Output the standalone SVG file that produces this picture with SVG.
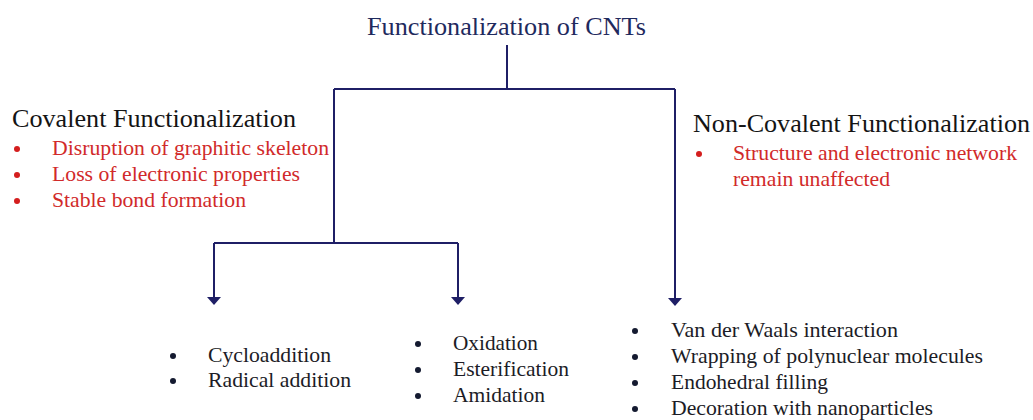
<svg xmlns="http://www.w3.org/2000/svg" width="1033" height="420" viewBox="0 0 1033 420">
<style>
text{font-family:"Liberation Serif",Tinos,"Times New Roman","DejaVu Serif","Noto Serif",serif}
.title{font-size:26px;fill:#1f2a5e}
.head{font-size:26px;fill:#141414}
.red{font-size:22px;fill:#d12a2a}
.item{font-size:22px;fill:#1c1c26}
.rdot{fill:#d41e1e}
.dot{fill:#141a30}
.conn{stroke:#1f1f66;stroke-width:2;fill:none}
</style>
<defs>
<marker id="ah" viewBox="0 0 8 14" refX="7" refY="7" markerWidth="8" markerHeight="14" markerUnits="userSpaceOnUse" orient="auto">
<path d="M0,0 L8,7 L0,14 Z" fill="#1f1f66"/>
</marker>
</defs>
<rect width="1033" height="420" fill="#ffffff"/>
<g id="connectors">
<path class="conn" d="M507,45 V89"/>
<path class="conn" d="M334,89 H675"/>
<path class="conn" d="M334,89 V243"/>
<path class="conn" d="M214,243 H458"/>
<path class="conn" d="M214,243 V304" marker-end="url(#ah)"/>
<path class="conn" d="M458,243 V304" marker-end="url(#ah)"/>
<path class="conn" d="M675,89 V305" marker-end="url(#ah)"/>
</g>
<g id="root">
<text class="title" x="367" y="35" textLength="279" lengthAdjust="spacingAndGlyphs">Functionalization of CNTs</text>
</g>
<g id="covalent">
<text class="head" x="12" y="127" textLength="284" lengthAdjust="spacingAndGlyphs">Covalent Functionalization</text>
<circle class="rdot" cx="17" cy="149" r="3"/>
<circle class="rdot" cx="17" cy="175" r="3"/>
<circle class="rdot" cx="17" cy="201" r="3"/>
<text class="red" x="52" y="155" textLength="277" lengthAdjust="spacingAndGlyphs">Disruption of graphitic skeleton</text>
<text class="red" x="52" y="181" textLength="248" lengthAdjust="spacingAndGlyphs">Loss of electronic properties</text>
<text class="red" x="52" y="207" textLength="194" lengthAdjust="spacingAndGlyphs">Stable bond formation</text>
</g>
<g id="noncovalent">
<text class="head" x="693" y="132" textLength="337" lengthAdjust="spacingAndGlyphs">Non-Covalent Functionalization</text>
<circle class="rdot" cx="699" cy="154" r="3"/>
<text class="red" x="733" y="160" textLength="284" lengthAdjust="spacingAndGlyphs">Structure and electronic network</text>
<text class="red" x="733" y="186" textLength="157" lengthAdjust="spacingAndGlyphs">remain unaffected</text>
</g>
<g id="list1">
<circle class="dot" cx="173" cy="356" r="3"/>
<circle class="dot" cx="173" cy="381" r="3"/>
<text class="item" x="208" y="362" textLength="123" lengthAdjust="spacingAndGlyphs">Cycloaddition</text>
<text class="item" x="208" y="387" textLength="143" lengthAdjust="spacingAndGlyphs">Radical addition</text>
</g>
<g id="list2">
<circle class="dot" cx="418" cy="344" r="3"/>
<circle class="dot" cx="418" cy="370" r="3"/>
<circle class="dot" cx="418" cy="396" r="3"/>
<text class="item" x="453" y="350" textLength="85" lengthAdjust="spacingAndGlyphs">Oxidation</text>
<text class="item" x="453" y="376" textLength="116" lengthAdjust="spacingAndGlyphs">Esterification</text>
<text class="item" x="453" y="402" textLength="92" lengthAdjust="spacingAndGlyphs">Amidation</text>
</g>
<g id="list3">
<circle class="dot" cx="635" cy="331" r="3"/>
<circle class="dot" cx="635" cy="357" r="3"/>
<circle class="dot" cx="635" cy="383" r="3"/>
<circle class="dot" cx="635" cy="409" r="3"/>
<text class="item" x="671" y="337" textLength="227" lengthAdjust="spacingAndGlyphs">Van der Waals interaction</text>
<text class="item" x="671" y="363" textLength="312" lengthAdjust="spacingAndGlyphs">Wrapping of polynuclear molecules</text>
<text class="item" x="671" y="389" textLength="157" lengthAdjust="spacingAndGlyphs">Endohedral filling</text>
<text class="item" x="671" y="415" textLength="262" lengthAdjust="spacingAndGlyphs">Decoration with nanoparticles</text>
</g>
</svg>
